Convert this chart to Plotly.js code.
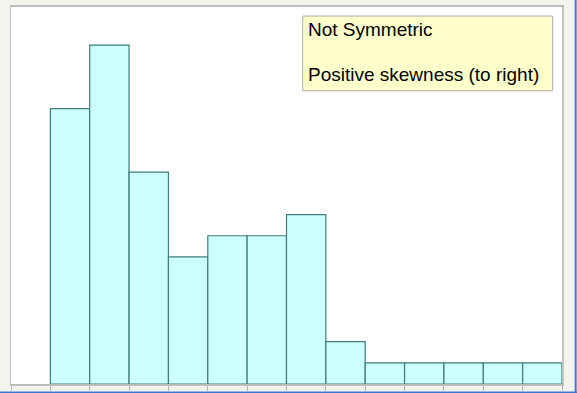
<!DOCTYPE html>
<html>
<head>
<meta charset="utf-8">
<script src="https://cdn.plot.ly/plotly-3.0.1.min.js"></script>
<style>html,body{margin:0;padding:0;background:#f4f4ef;}</style>
</head>
<body>
<div id="chart" style="width:577px;height:393px;"></div>
<script>
// Histogram bins (left edge of each bin) and their counts
var binStarts = [1, 2, 3, 4, 5, 6, 7, 8, 9, 10, 11, 12, 13];
var counts    = [13, 16, 10, 6, 7, 7, 8, 2, 1, 1, 1, 1, 1];
var noteLines = ["Not Symmetric", "Positive skewness (to right)"];

var trace = {
  type: 'bar',
  x: binStarts,
  y: counts,
  width: 1,
  offset: 0,
  marker: {color: '#ccffff', line: {color: '#3f7c7c', width: 1.2}},
  hoverinfo: 'x+y'
};

var layout = {
  width: 577, height: 393,
  margin: {l: 11, r: 15, t: 7, b: 9, pad: 0},
  paper_bgcolor: '#f4f4ef',
  plot_bgcolor: '#ffffff',
  showlegend: false,
  bargap: 0,
  xaxis: {
    range: [0, 14], tick0: 0, dtick: 1, showticklabels: false,
    ticks: 'outside', ticklen: 5, tickwidth: 1, tickcolor: '#b5b5b5',
    showgrid: false, zeroline: false,
    showline: true, linecolor: '#bcbcbc', linewidth: 2, mirror: true
  },
  yaxis: {
    range: [0, 17.8], showticklabels: false, ticks: '',
    showgrid: false, zeroline: false,
    showline: true, linecolor: '#c4c4c4', linewidth: 1.5, mirror: true
  },
  shapes: [
    {type: 'rect', xref: 'paper', yref: 'paper', x0: 0.5294, x1: 0.9831, y0: 0.778, y1: 0.976,
     fillcolor: '#ffffcc', line: {color: '#adadad', width: 1}, layer: 'above'},
    {type: 'line', xref: 'paper', yref: 'paper', x0: -0.03, x1: 1.03, y0: -0.0225, y1: -0.0225,
     line: {color: '#3b78d4', width: 2}},
    {type: 'line', xref: 'paper', yref: 'paper', x0: 1.0248, x1: 1.0248, y0: -0.03, y1: 1.03,
     line: {color: '#3b78d4', width: 2}}
  ],
  annotations: [
    {xref: 'paper', yref: 'paper', x: 0.5355, y: 0.939, xanchor: 'left', yanchor: 'middle',
     text: noteLines[0], showarrow: false,
     font: {family: 'Liberation Sans, Arial, sans-serif', size: 19, color: '#000000'}},
    {xref: 'paper', yref: 'paper', x: 0.5355, y: 0.821, xanchor: 'left', yanchor: 'middle',
     text: noteLines[1], showarrow: false,
     font: {family: 'Liberation Sans, Arial, sans-serif', size: 19, color: '#000000'}}
  ]
};

Plotly.newPlot('chart', [trace], layout, {staticPlot: true, displayModeBar: false});
</script>
</body>
</html>
